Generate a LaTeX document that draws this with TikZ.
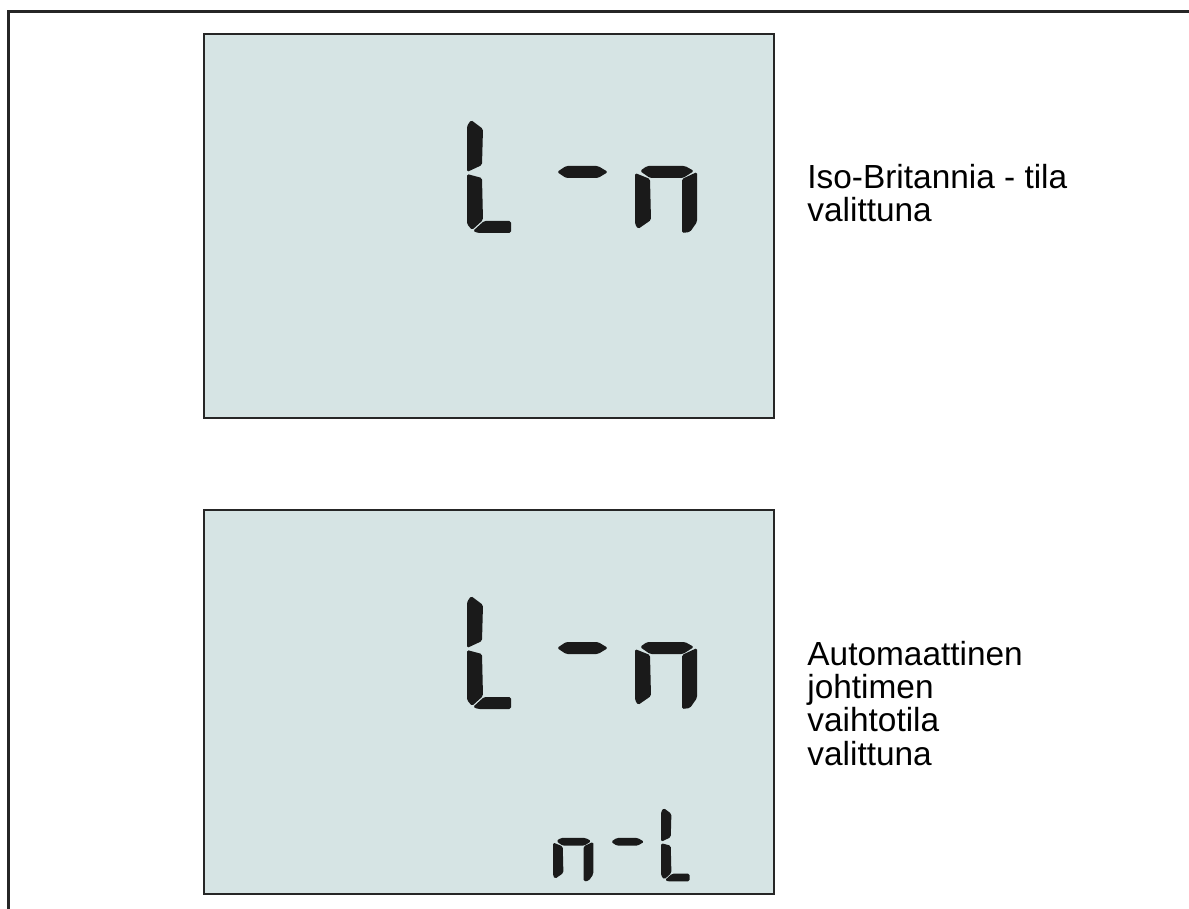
\documentclass[tikz,border=0pt]{standalone}
\usepackage{fontspec}
\setmainfont{Liberation Sans}
\definecolor{lcdbg}{HTML}{D6E4E4}
\definecolor{segink}{HTML}{1A1A1A}
\definecolor{frameink}{HTML}{262626}
\tikzset{
  panel/.style={draw=frameink, line width=1pt, fill=lcdbg, anchor=north west, inner sep=0pt, minimum width=285pt, minimum height=192pt},
  seg/.style={fill=segink, rounded corners=0.8pt},
  caption/.style={anchor=base west, inner sep=0pt, align=left, font=\fontsize{16.7}{16.6}\selectfont}
}
% seven-segment glyphs, local pixel frame (top-left of the digit cell)
\newcommand{\lcdL}{%
  \fill[seg] (0,52) -- (0,6) -- (4,0) -- (16,9) -- (15,45) -- cycle;
  \fill[seg] (0,54) -- (15,58) -- (16,100) -- (5,110) -- (0,104) -- cycle;
  \fill[seg] (17,101) -- (44,101) -- (44,113) -- (11,113) -- (6,111) -- cycle;}
\newcommand{\lcdDash}{%
  \fill[seg] (0,52) -- (9,46) -- (41,46) -- (51,52) -- (41,58) -- (9,58) -- cycle;}
\newcommand{\lcdN}{%
  \fill[seg] (5,51) -- (12,46) -- (50,46) -- (59,51) -- (48,58) -- (15,58) -- cycle;
  \fill[seg] (0,53) -- (15,59) -- (16,100) -- (3,109) -- (0,104) -- cycle;
  \fill[seg] (47,59) -- (62,52) -- (62,102) -- (55,112) -- (47,113) -- cycle;}

\begin{document}
\begin{tikzpicture}[x=0.5pt, y=-0.5pt]
    \useasboundingbox (0,0) rectangle (1189,909);
    \draw[frameink, line width=1.5pt] (8,909) -- (8,11.5) -- (1189,11.5);

    \node[panel] (ukpanel) at (203,33) {};
    \node[panel] (autopanel) at (203,509) {};

    % upper display: L-n
    \begin{scope}[shift={(467,120)}] \lcdL \end{scope}
    \begin{scope}[shift={(557,120)}] \lcdDash \end{scope}
    \begin{scope}[shift={(635,120)}] \lcdN \end{scope}

    % lower display: L-n and small n-L
    \begin{scope}[shift={(467,596)}] \lcdL \end{scope}
    \begin{scope}[shift={(557,596)}] \lcdDash \end{scope}
    \begin{scope}[shift={(635,596)}] \lcdN \end{scope}
    \begin{scope}[shift={(553,808)}, scale=0.65] \lcdN \end{scope}
    \begin{scope}[shift={(611,808)}, scale=0.65] \lcdDash \end{scope}
    \begin{scope}[shift={(661,808)}, scale=0.65] \lcdL \end{scope}

    % base anchor sits on the last line
    \node[caption] (uklabel) at (807,222) {Iso-Britannia - tila\\valittuna};
    \node[caption] (autolabel) at (807,765) {Automaattinen\\johtimen\\vaihtotila\\valittuna};
\end{tikzpicture}
\end{document}
